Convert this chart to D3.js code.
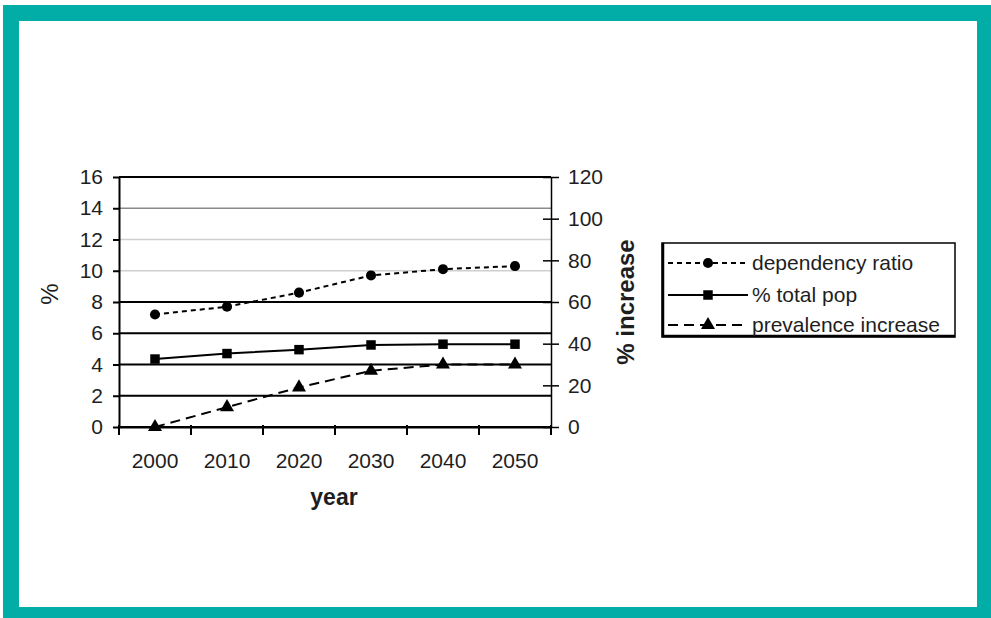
<!DOCTYPE html>
<html>
<head>
<meta charset="utf-8">
<script src="https://cdn.jsdelivr.net/npm/d3@7/dist/d3.min.js"></script>
<style>
  html, body { margin: 0; padding: 0; background: #fff; }
  svg { display: block; }
  text { font-family: "Liberation Sans", Arial, sans-serif; fill: #1e1e1e; }
</style>
</head>
<body>
<script>
// Projected figures, 2000–2050
const years = ["2000", "2010", "2020", "2030", "2040", "2050"];
const dependencyRatio = [7.2, 7.7, 8.6, 9.7, 10.1, 10.3];      // % (left axis)
const totalPop = [4.35, 4.7, 4.95, 5.25, 5.3, 5.3];             // % (left axis)
const prevalenceIncrease = [0, 9.5, 19, 27, 30, 30];            // % increase (right axis)
const leftTicks = [0, 2, 4, 6, 8, 10, 12, 14, 16];
const rightTicks = [0, 20, 40, 60, 80, 100, 120];
const seriesNames = ["dependency ratio", "% total pop", "prevalence increase"];

const W = 991, H = 618;
const FS = 21;
const svg = d3.select("body").append("svg").attr("width", W).attr("height", H);

// Teal frame
svg.append("rect").attr("x", 3).attr("y", 5).attr("width", W - 3).attr("height", H - 5).attr("fill", "#02ada8");
svg.append("rect").attr("x", 19).attr("y", 21).attr("width", 958).attr("height", 586).attr("fill", "#fff");

const plot = { left: 119, right: 551, top: 177, bottom: 427 };

const x = d3.scaleBand().domain(years).range([plot.left, plot.right]).padding(0);
const yL = d3.scaleLinear().domain([0, 16]).range([plot.bottom, plot.top]);
const yR = d3.scaleLinear().domain([0, 120]).range([plot.bottom, plot.top]);

// Horizontal gridlines
const gridStyle = v => v >= 10 && v < 16 ? (v === 14 ? { c: "#8a8a8a", w: 1.5 } : { c: "#cfcfcf", w: 1.5 }) : { c: "#000", w: 2 };
svg.append("g").selectAll("line").data(leftTicks).join("line")
  .attr("x1", plot.left).attr("x2", plot.right)
  .attr("y1", d => yL(d)).attr("y2", d => yL(d))
  .attr("stroke", d => gridStyle(d).c).attr("stroke-width", d => gridStyle(d).w);

// Left axis
const gL = svg.append("g").attr("transform", `translate(${plot.left},0)`)
  .call(d3.axisLeft(yL).tickValues(leftTicks).tickSize(6).tickSizeOuter(0).tickPadding(10));
gL.select(".domain").attr("stroke", "#000").attr("stroke-width", 2);
gL.selectAll(".tick line").attr("stroke", "#000").attr("stroke-width", 2);
gL.selectAll(".tick text").attr("font-size", FS).attr("font-family", null).attr("fill", "#1e1e1e");

// Right axis (ticks cross the axis line)
const gR = svg.append("g").attr("transform", `translate(${plot.right},0)`)
  .call(d3.axisRight(yR).tickValues(rightTicks).tickSize(8).tickSizeOuter(0).tickPadding(9));
gR.select(".domain").attr("stroke", "#000").attr("stroke-width", 1.5);
gR.selectAll(".tick line").attr("x1", -8).attr("stroke", "#000").attr("stroke-width", 1.5);
gR.selectAll(".tick text").attr("font-size", FS).attr("font-family", null).attr("fill", "#1e1e1e");

// Bottom axis: labels centred in each band, ticks on band boundaries
const gB = svg.append("g").attr("transform", `translate(0,${plot.bottom})`)
  .call(d3.axisBottom(x).tickSize(0).tickPadding(26));
gB.select(".domain").attr("stroke", "#000").attr("stroke-width", 2);
gB.selectAll(".tick text").attr("font-size", FS).attr("font-family", null).attr("fill", "#1e1e1e");
const bounds = years.map(d => x(d)).concat([plot.right]);
gB.selectAll("line.bt").data(bounds).join("line").attr("class", "bt")
  .attr("x1", d => d).attr("x2", d => d).attr("y1", -2).attr("y2", 8)
  .attr("stroke", "#000").attr("stroke-width", 2);

// Axis titles
svg.append("text").attr("transform", "translate(58,294) rotate(-90)")
  .attr("text-anchor", "middle").attr("font-size", 24).text("%");
svg.append("text").attr("transform", "translate(634,302) rotate(-90)")
  .attr("text-anchor", "middle").attr("font-size", 24).attr("font-weight", "bold").text("% increase");
svg.append("text").attr("x", 334).attr("y", 505)
  .attr("text-anchor", "middle").attr("font-size", 23).attr("font-weight", "bold").text("year");

// Series
const cx = d => x(d) + x.bandwidth() / 2;
const series = [
  { name: seriesNames[0], values: dependencyRatio, y: yL, dash: "5,4", symbol: d3.symbolCircle, size: 80 },
  { name: seriesNames[1], values: totalPop, y: yL, dash: null, symbol: d3.symbolSquare, size: 90 },
  { name: seriesNames[2], values: prevalenceIncrease, y: yR, dash: "10,6", symbol: d3.symbolTriangle, size: 85 }
];

series.forEach(s => {
  const pts = years.map((yr, i) => [cx(yr), s.y(s.values[i])]);
  svg.append("path").attr("d", d3.line()(pts))
    .attr("fill", "none").attr("stroke", "#000").attr("stroke-width", 2)
    .attr("stroke-dasharray", s.dash);
  svg.append("g").selectAll("path").data(pts).join("path")
    .attr("transform", p => `translate(${p[0]},${p[1]})`)
    .attr("d", d3.symbol().type(s.symbol).size(s.size))
    .attr("fill", "#000");
});

// Legend
const lg = svg.append("g").attr("transform", "translate(662,243)");
lg.append("rect").attr("width", 293).attr("height", 94)
  .attr("fill", "#fff").attr("stroke", "#000").attr("stroke-width", 1.5);
lg.append("line").attr("x1", 1).attr("x2", 1).attr("y1", 0).attr("y2", 94).attr("stroke", "#000").attr("stroke-width", 2.5);
lg.append("line").attr("x1", 0).attr("x2", 293).attr("y1", 93).attr("y2", 93).attr("stroke", "#000").attr("stroke-width", 2.5);
const rowY = [20, 52, 82];
series.forEach((s, i) => {
  const r = lg.append("g").attr("transform", `translate(0,${rowY[i]})`);
  r.append("line").attr("x1", 6).attr("x2", 86).attr("y1", 0).attr("y2", 0)
    .attr("stroke", "#000").attr("stroke-width", 2).attr("stroke-dasharray", s.dash);
  r.append("path").attr("transform", "translate(46,0)")
    .attr("d", d3.symbol().type(s.symbol).size(s.size)).attr("fill", "#000");
  r.append("text").attr("x", 90).attr("y", 7).attr("font-size", FS).text(s.name);
});
</script>
</body>
</html>
